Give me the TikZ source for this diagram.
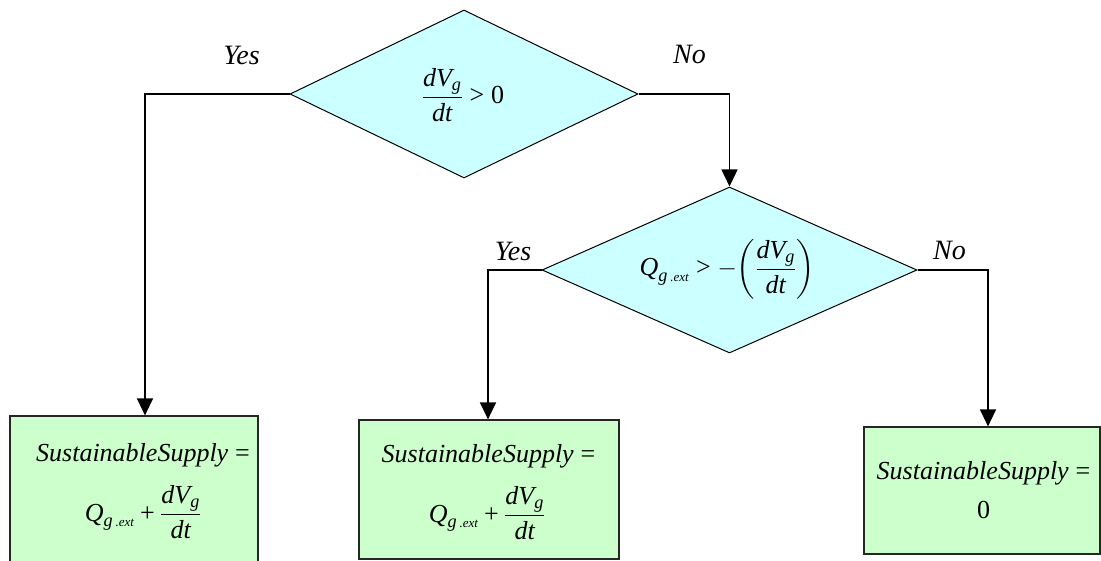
\documentclass[tikz,border=0pt]{standalone}
\usepackage{amsmath}
\usepackage[no-math]{fontspec}
\setmainfont{Liberation Serif}
\usetikzlibrary{shapes.geometric,arrows.meta}
\newcommand{\mv}[1]{\text{\itshape #1}}
\newcommand{\mr}[1]{\text{\upshape #1}}
\newcommand{\Qext}{\mv{Q}_{\mv{g}\,{\scriptscriptstyle\mv{.ext}}}}
\newcommand{\dVdt}{\dfrac{\mv{dV}_{\mv{g}}}{\mv{dt}}}
\definecolor{dcyan}{HTML}{CCFFFF}
\definecolor{bgreen}{HTML}{CCFFCC}
\tikzset{
  decision/.style={shape=diamond,draw=black,line width=1pt,fill=dcyan,inner sep=0pt,aspect=2},
  resultbox/.style={draw=black!85,line width=1.2pt,fill=bgreen,inner sep=0pt},
  conn/.style={line width=1.4pt,-{Triangle[length=17pt,width=16pt]}},
  lbl/.style={font=\fontsize{28}{30}\selectfont\itshape,anchor=base,inner sep=0pt},
  mtxt/.style={font=\fontsize{26}{30}\selectfont,anchor=base,inner sep=0pt}
}
\begin{document}
\begin{tikzpicture}[x=1pt,y=-1pt]
\useasboundingbox (0,0) rectangle (1101,561);
% decisions
\node[decision,minimum width=348pt,minimum height=168pt] (d1) at (464,94) {};
\node[decision,minimum width=375pt,minimum height=166pt] (d2) at (729.5,270) {};
% result boxes
\node[resultbox,minimum width=248pt,minimum height=160pt] (b1) at (134,496) {};
\node[resultbox,minimum width=260pt,minimum height=139pt] (b2) at (489,489.5) {};
\node[resultbox,minimum width=236pt,minimum height=127pt] (b3) at (982,490.5) {};
% texts
\node[mtxt] (f1) at (463,104) {$\dVdt\mathrel{\mr{>}}\mr{0}$};
\node[mtxt] (f2) at (727,276) {$\Qext\mathrel{\mr{>}}\mr{$-$}\!\left(\dVdt\right)$};
\node[mtxt] (t1a) at (143,461) {$\mv{SustainableSupply}\mathrel{\mr{=}}$};
\node[mtxt] (t1b) at (143,521) {$\Qext\mathbin{\mr{+}}\dVdt$};
\node[mtxt] (t2a) at (488.5,462) {$\mv{SustainableSupply}\mathrel{\mr{=}}$};
\node[mtxt] (t2b) at (487,522) {$\Qext\mathbin{\mr{+}}\dVdt$};
\node[mtxt] (t3a) at (983.5,479) {$\mv{SustainableSupply}\mathrel{\mr{=}}$};
\node[mtxt] (t3b) at (983.5,518) {$\mr{0}$};
% labels
\node[lbl] (y1) at (241.5,65) {Yes};
\node[lbl] (n1) at (689.5,64) {No};
\node[lbl] (y2) at (513,261) {Yes};
\node[lbl] (n2) at (949.5,260) {No};
% connectors
\draw[conn] (d1.west) -| ([xshift=11pt]b1.north);
\draw[conn] (d1.east) -| (d2.north);
\draw[conn] (d2.west) -| ([xshift=-1pt]b2.north);
\draw[conn] (d2.east) -| ([xshift=6pt]b3.north);
\end{tikzpicture}
\end{document}
